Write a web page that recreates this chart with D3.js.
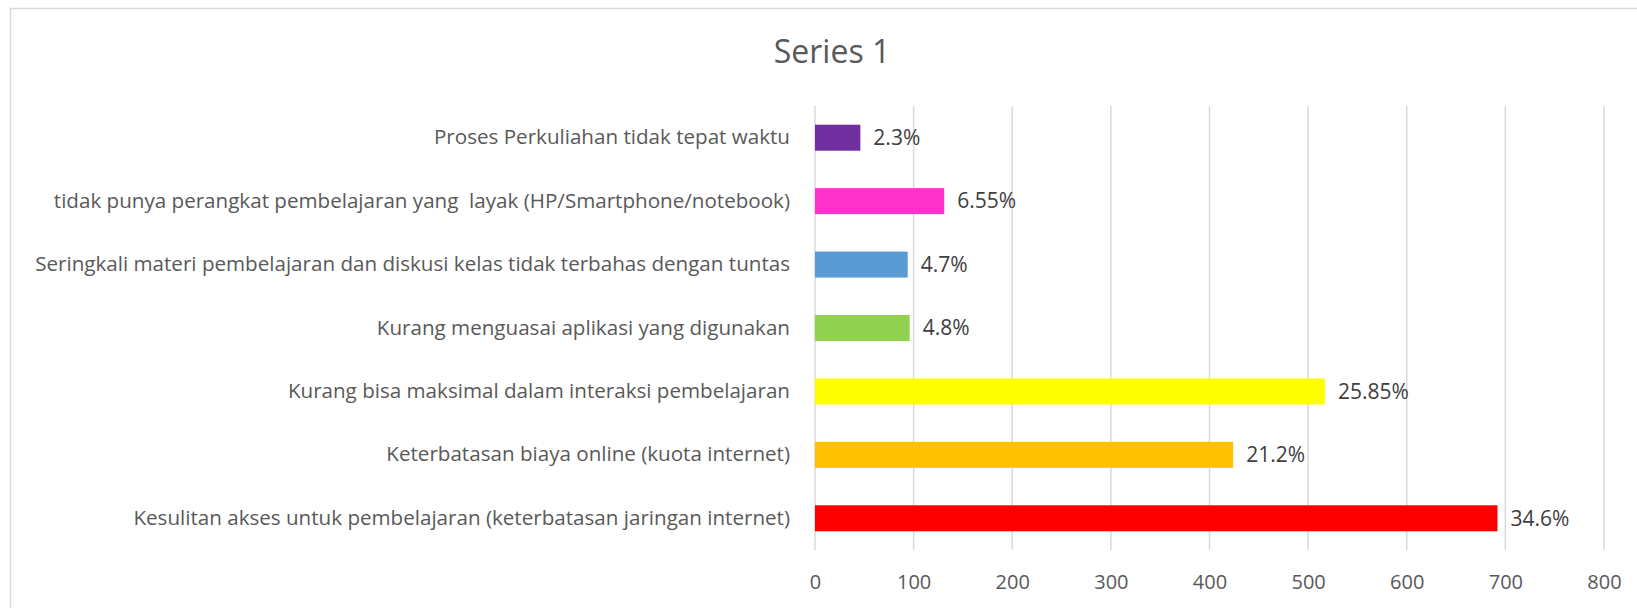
<!DOCTYPE html>
<html>
<head>
<meta charset="utf-8">
<script src="https://cdn.jsdelivr.net/npm/d3@7"></script>
<style>
  body { margin: 0; background: #fff; }
  text { font-family: "Open Sans", sans-serif; white-space: pre; }
</style>
</head>
<body>
<script>
// data, top to bottom as in the picture
var categories = [
  "Proses Perkuliahan tidak tepat waktu",
  "tidak punya perangkat pembelajaran yang  layak (HP/Smartphone/notebook)",
  "Seringkali materi pembelajaran dan diskusi kelas tidak terbahas dengan tuntas",
  "Kurang menguasai aplikasi yang digunakan",
  "Kurang bisa maksimal dalam interaksi pembelajaran",
  "Keterbatasan biaya online (kuota internet)",
  "Kesulitan akses untuk pembelajaran (keterbatasan jaringan internet)"
];
var values = [46, 131, 94, 96, 517, 424, 692];
var percentLabels = ["2.3%", "6.55%", "4.7%", "4.8%", "25.85%", "21.2%", "34.6%"];
var barColors = ["#7030A0", "#FF33CC", "#5B9BD5", "#92D050", "#FFFF00", "#FFC000", "#FF0000"];
var xTicks = [0, 100, 200, 300, 400, 500, 600, 700, 800];
var chartTitle = "Series 1";

var width = 1637;
var height = 608;
var margin = {left: 815, top: 106, right: 33, bottom: 58};

var svg = d3.select("body").append("svg").attr("width", width).attr("height", height);

// chart border
svg.append("rect")
    .attr("x", 10.5).attr("y", 8.5)
    .attr("width", width).attr("height", height)
    .attr("fill", "none")
    .attr("stroke", "#d9d9d9")
    .attr("stroke-width", 1.5);

var x = d3.scaleLinear().domain([0, 800]).range([margin.left, width - margin.right]);
var y = d3.scaleBand().domain(categories)
    .range([margin.top, height - margin.bottom])
    .paddingInner(0.59).paddingOuter(0.295);

// gridlines
svg.append("g").selectAll("line")
    .data(xTicks)
    .enter().append("line")
    .attr("x1", function(d){return x(d);})
    .attr("x2", function(d){return x(d);})
    .attr("y1", margin.top)
    .attr("y2", height - margin.bottom)
    .attr("stroke", "#d9d9d9")
    .attr("stroke-width", 1.5);

// x axis labels
var xAxis = d3.axisBottom(x).tickValues(xTicks).tickSize(0).tickPadding(0);
var gx = svg.append("g").attr("transform", "translate(0,582)").call(xAxis);
gx.select(".domain").remove();
gx.selectAll("text")
    .attr("dy", "0.35em")
    .attr("font-size", 20)
    .attr("fill", "#595959")
    .style("font-family", "'Open Sans', sans-serif");

// y labels
var yAxis = d3.axisLeft(y).tickSize(0).tickPadding(25);
var gy = svg.append("g").attr("transform", "translate(" + margin.left + ",0)").call(yAxis);
gy.select(".domain").remove();
gy.selectAll("text")
    .attr("font-size", 20.6)
    .attr("fill", "#595959")
    .style("font-family", "'Open Sans', sans-serif");

// bars
svg.append("g").selectAll("rect")
    .data(values)
    .enter().append("rect")
    .attr("x", x(0))
    .attr("y", function(d, i){return y(categories[i]);})
    .attr("width", function(d){return x(d) - x(0);})
    .attr("height", y.bandwidth())
    .attr("fill", function(d, i){return barColors[i];});

// value labels
svg.append("g").selectAll("text")
    .data(values)
    .enter().append("text")
    .attr("x", function(d){return x(d) + 13;})
    .attr("y", function(d, i){return y(categories[i]) + y.bandwidth() / 2;})
    .attr("dy", "0.35em")
    .attr("font-size", 21)
    .attr("fill", "#404040")
    .text(function(d, i){return percentLabels[i];});

// title
svg.append("text")
    .attr("x", 832)
    .attr("y", 52)
    .attr("dy", "0.35em")
    .attr("text-anchor", "middle")
    .attr("font-size", 32)
    .attr("fill", "#595959")
    .text(chartTitle);
</script>
</body>
</html>
